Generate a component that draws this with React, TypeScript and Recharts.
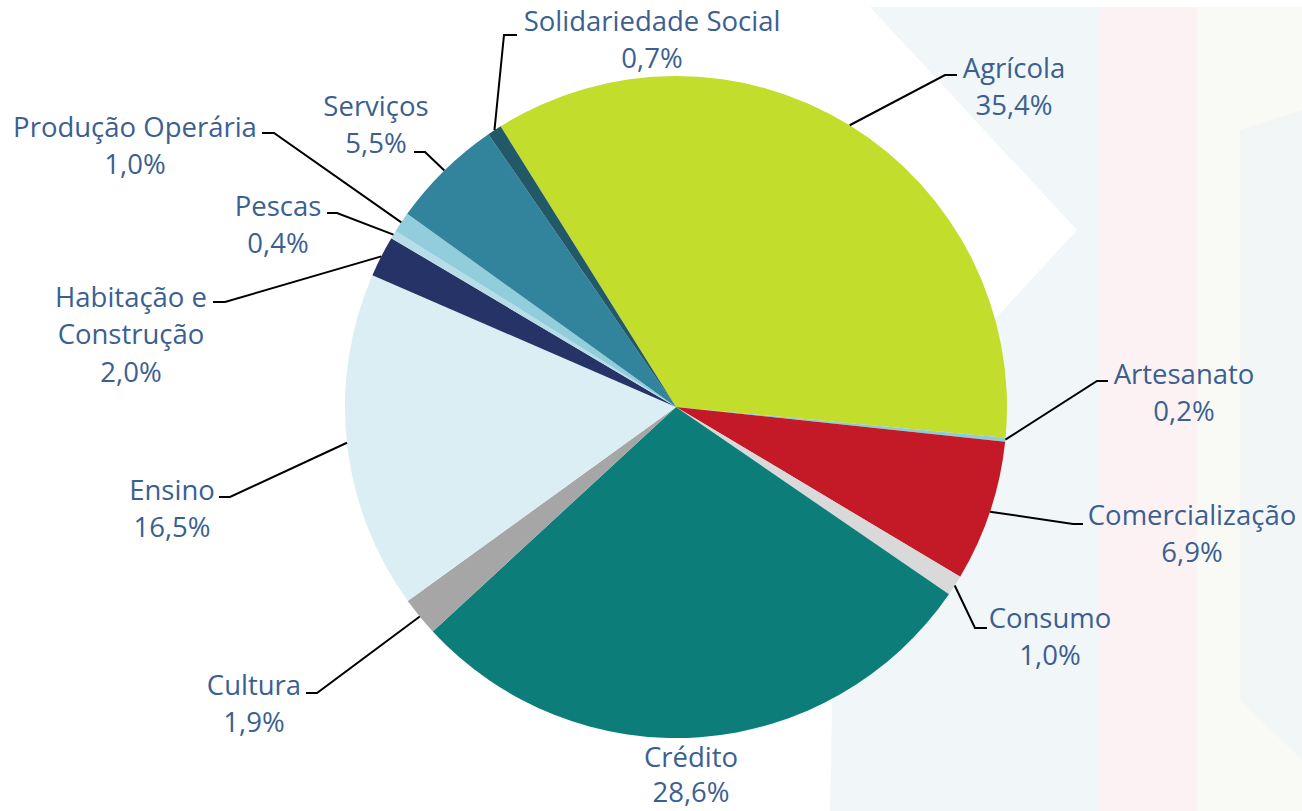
import { PieChart, Pie, Cell } from 'recharts';

const sectors = [
  'Agrícola',
  'Artesanato',
  'Comercialização',
  'Consumo',
  'Crédito',
  'Cultura',
  'Ensino',
  'Habitação e Construção',
  'Pescas',
  'Produção Operária',
  'Serviços',
  'Solidariedade Social'
];
const shares = [35.4, 0.2, 6.9, 1.0, 28.6, 1.9, 16.5, 2.0, 0.4, 1.0, 5.5, 0.7];

const sliceColors = [
  '#C3DD2C',
  '#8ECCD6',
  '#C41926',
  '#D9D9D9',
  '#0D7D7A',
  '#A6A6A6',
  '#DBEEF3',
  '#263366',
  '#B7DEE8',
  '#92CDDC',
  '#31849B',
  '#215968'
];

// label placement: text centre x, first line centre y, elbow point, line end x
const labelLayout: Record<
  string,
  { tx: number; ty: number; ex?: number; ey?: number; lx?: number; gap?: number; lines?: string[] }
> = {
  'Agrícola': { tx: 1014, ty: 67, ex: 945, ey: 75, lx: 957 },
  'Artesanato': { tx: 1184, ty: 373, ex: 1097, ey: 381, lx: 1108 },
  'Comercialização': { tx: 1192, ty: 514, ex: 1073, ey: 524, lx: 1083 },
  'Consumo': { tx: 1050, ty: 617, ex: 975, ey: 628, lx: 987 },
  'Crédito': { tx: 691, ty: 756, gap: 35 },
  'Cultura': { tx: 254, ty: 684, ex: 317, ey: 693, lx: 306 },
  'Ensino': { tx: 172, ty: 489, ex: 230, ey: 497, lx: 219 },
  'Habitação e Construção': { tx: 131, ty: 296, ex: 225, ey: 302, lx: 213, lines: ['Habitação e', 'Construção'] },
  'Pescas': { tx: 278, ty: 205, ex: 337, ey: 213, lx: 327 },
  'Produção Operária': { tx: 135, ty: 126, ex: 274, ey: 133, lx: 262 },
  'Serviços': { tx: 376, ty: 105, ex: 425, ey: 152, lx: 414 },
  'Solidariedade Social': { tx: 652, ty: 20, ex: 504, ey: 35, lx: 517 }
};

const data = sectors.map((name, i) => ({ name, value: shares[i] }));

const RADIAN = Math.PI / 180;
const LINE_GAP = 37.5;

function renderLabel(props: any) {
  const { cx, cy, midAngle, outerRadius, name, value } = props;
  const layout = labelLayout[name];
  if (!layout) return null;
  const sx = cx + outerRadius * Math.cos(-midAngle * RADIAN);
  const sy = cy + outerRadius * Math.sin(-midAngle * RADIAN);
  const lines = [...(layout.lines ?? [name]), `${value.toFixed(1).replace('.', ',')}%`];
  const gap = layout.gap ?? LINE_GAP;
  return (
    <g>
      {layout.ex !== undefined && (
        <polyline
          points={`${sx},${sy} ${layout.ex},${layout.ey} ${layout.lx},${layout.ey}`}
          fill="none"
          stroke="#000"
          strokeWidth={2}
        />
      )}
      {lines.map((line, i) => (
        <text
          key={i}
          x={layout.tx}
          y={layout.ty + i * gap}
          textAnchor="middle"
          dominantBaseline="central"
          fill="#3C5F91"
          fontSize={27.5}
          fontFamily="'Open Sans', Lato, sans-serif"
        >
          {line}
        </text>
      ))}
    </g>
  );
}

function Backdrop() {
  return (
    <svg width={1302} height={811} style={{ position: 'absolute', left: 0, top: 0 }}>
      <polygon points="870,7 1100,7 1100,811 830,811 840,320 997,317 1077,230" fill="#F1F6F8" />
      <rect x={1100} y={7} width={97} height={804} fill="#FDF2F3" />
      <rect x={1197} y={7} width={105} height={804} fill="#F9FAF6" />
      <polygon points="1240,130 1302,110 1302,760 1240,700" fill="#F3F6F7" />
    </svg>
  );
}

export default function App() {
  return (
    <div style={{ position: 'absolute', left: 0, top: 0, width: 1302, height: 811, background: '#fff' }}>
      <Backdrop />
      <div style={{ position: 'absolute', left: 0, top: 0 }}>
        <PieChart width={1302} height={811} margin={{ top: 0, right: 0, bottom: 0, left: 0 }}>
          <Pie
            data={data}
            dataKey="value"
            nameKey="name"
            cx={676}
            cy={407}
            outerRadius={331}
            startAngle={122}
            endAngle={-238}
            stroke="none"
            label={renderLabel}
            labelLine={false}
            isAnimationActive={false}
          >
            {data.map((d, i) => (
              <Cell key={d.name} fill={sliceColors[i]} />
            ))}
          </Pie>
        </PieChart>
      </div>
    </div>
  );
}
